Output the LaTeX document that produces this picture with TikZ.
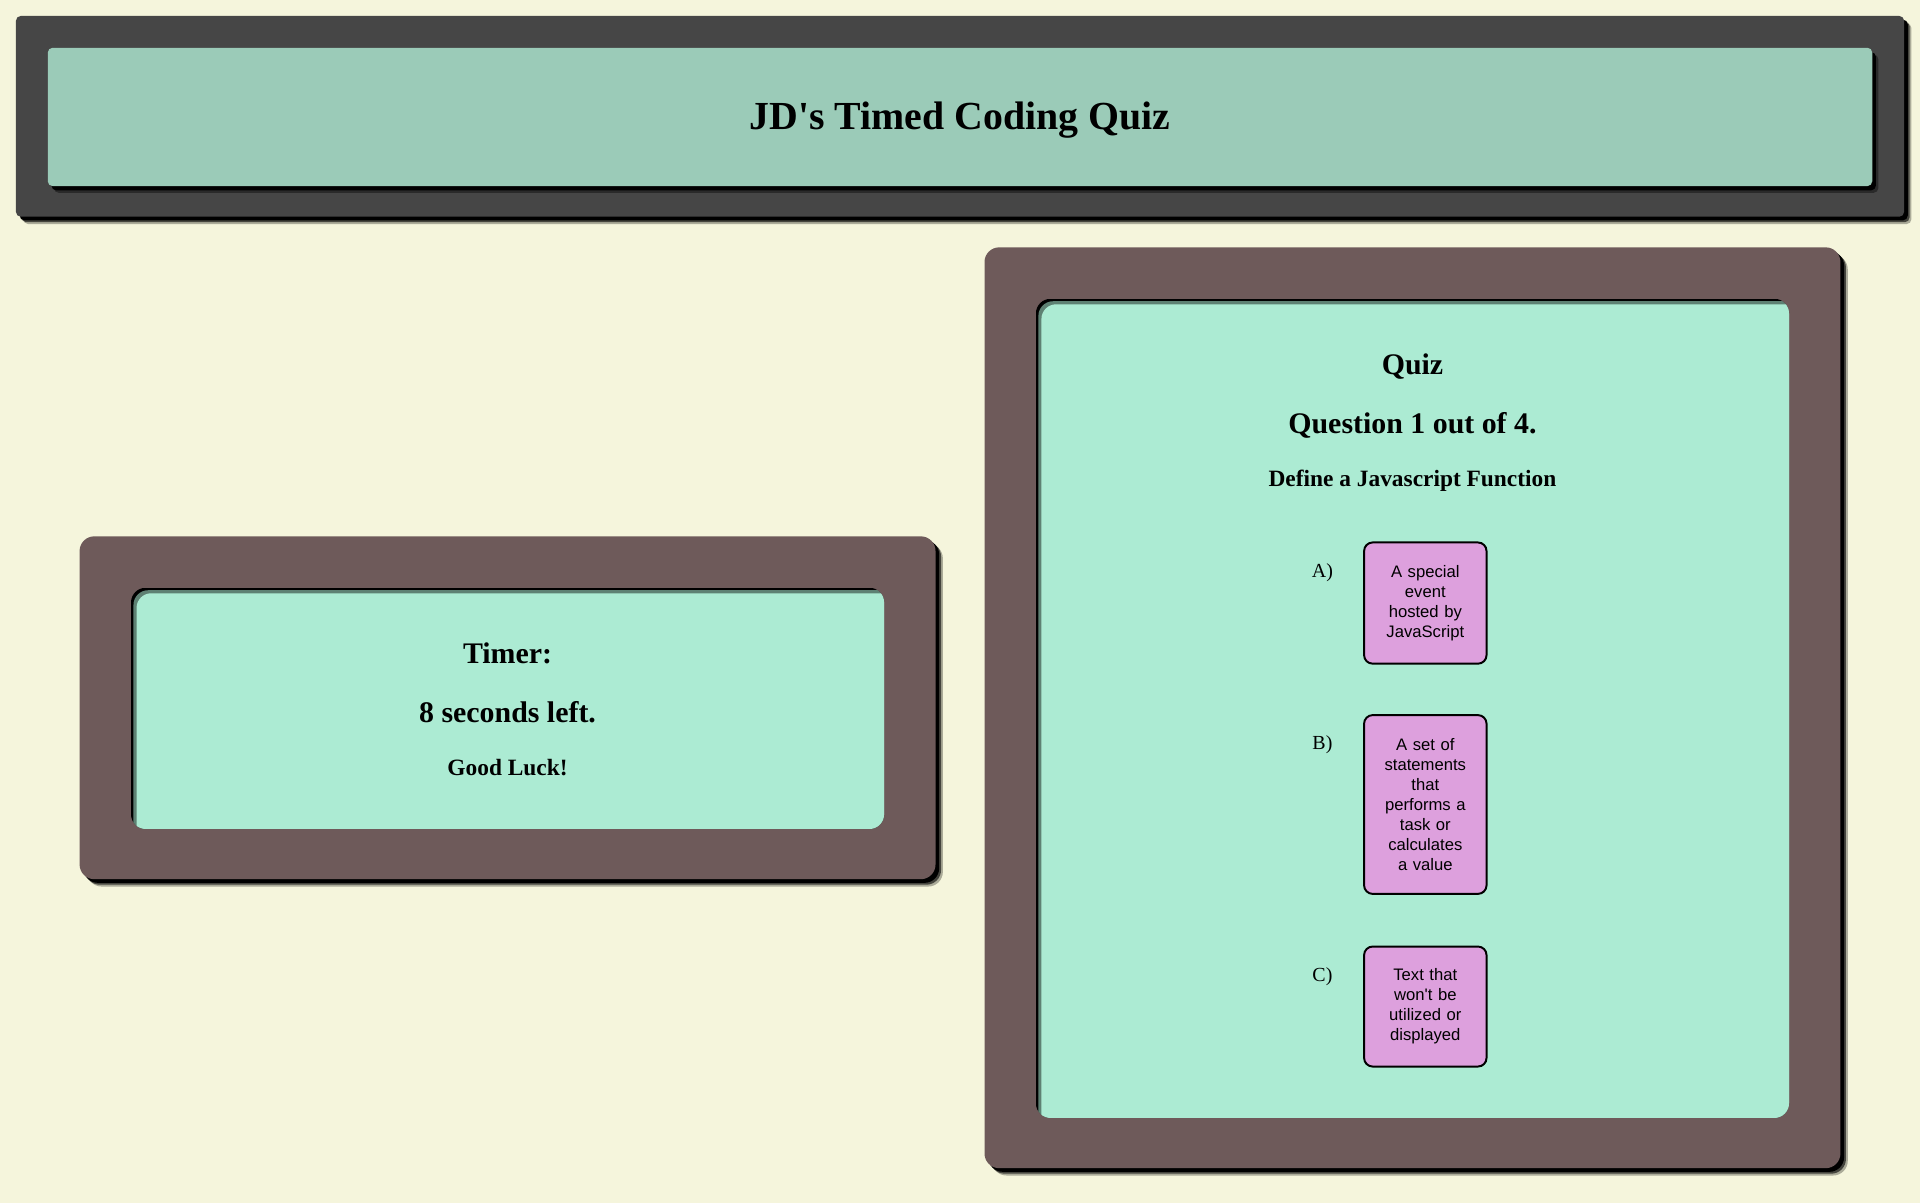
\documentclass[tikz,border=0pt]{standalone}
\usepackage{fontspec}
\setmainfont{Liberation Serif}
\setsansfont{Liberation Sans}

\definecolor{pagebg}{HTML}{F5F5DC}
\definecolor{hdrgray}{HTML}{464646}
\definecolor{hdrgreen}{HTML}{9BCBB8}
\definecolor{framebrown}{HTML}{6E5A5A}
\definecolor{panelmint}{HTML}{ACEBD3}
\definecolor{answerplum}{HTML}{DDA0DD}

\begin{document}
\begin{tikzpicture}%
	[x=1pt, y=-1pt,
	castshadow/.style={fill=black, opacity=#1},
	castshadow/.default=1,
	hdrframe/.style={fill=hdrgray, rounded corners=4pt},
	hdrbar/.style={fill=hdrgreen, rounded corners=4pt},
	frame/.style={fill=framebrown, rounded corners=12pt},
	panel/.style={fill=panelmint, rounded corners=12pt},
	title/.style={font=\bfseries\fontsize{32.5}{39}\selectfont, anchor=base},
	heading/.style={font=\bfseries\fontsize{24.4}{29}\selectfont, anchor=base},
	subheading/.style={font=\bfseries\fontsize{19.1}{23}\selectfont, anchor=base},
	choice/.style={font=\fontsize{16.3}{19.5}\selectfont, anchor=base},
	answer/.style={draw=black, line width=1.6pt, fill=answerplum, rounded corners=7pt,
		inner sep=0pt, minimum width=100pt, text width=72pt, align=center,
		font=\sffamily\fontsize{13.6}{16.3}\selectfont}]
%
%% Page
%%
\fill[pagebg] (0,0) rectangle (1568,982.4);
\useasboundingbox (0,0) rectangle (1568,982.4);
%%
%%
%% Drawing the shadows
%%
\fill[castshadow=0.3, rounded corners=4pt, xshift=6pt, yshift=-6pt] (13,13) rectangle (1555,177);
\fill[castshadow=0.6, rounded corners=4pt, xshift=4.5pt, yshift=-4.5pt] (13,13) rectangle (1555,177);
\fill[castshadow, rounded corners=4pt, xshift=3pt, yshift=-3pt] (13,13) rectangle (1555,177);
\fill[castshadow=0.3, rounded corners=12pt, xshift=6pt, yshift=-6pt] (65,438) rectangle (764,718);
\fill[castshadow=0.6, rounded corners=12pt, xshift=4.5pt, yshift=-4.5pt] (65,438) rectangle (764,718);
\fill[castshadow, rounded corners=12pt, xshift=3pt, yshift=-3pt] (65,438) rectangle (764,718);
\fill[castshadow=0.3, rounded corners=12pt, xshift=6pt, yshift=-6pt] (804,202) rectangle (1503,954);
\fill[castshadow=0.6, rounded corners=12pt, xshift=4.5pt, yshift=-4.5pt] (804,202) rectangle (1503,954);
\fill[castshadow, rounded corners=12pt, xshift=3pt, yshift=-3pt] (804,202) rectangle (1503,954);
%%
%%
%% Drawing the frames
%%
\fill[hdrframe] (13,13) rectangle (1555,177);
\fill[frame] (65,438) rectangle (764,718);
\fill[frame] (804,202) rectangle (1503,954);
%%
%%
%% Header bar
%%
\fill[castshadow=0.4, rounded corners=4pt, xshift=5pt, yshift=-5.5pt] (39,39) rectangle (1529,152);
\fill[castshadow, rounded corners=4pt, xshift=3pt, yshift=-3.5pt] (39,39) rectangle (1529,152);
\fill[hdrbar] (39,39) rectangle (1529,152);
%%
%%
%% Drawing the panels (inset shadow on top and left)
%%
\begin{scope}
\clip[rounded corners=12pt] (107,480) rectangle (722,677);
\fill[black] (107,480) rectangle (722,677);
\fill[panelmint, opacity=0.55, rounded corners=12pt] (109,482) rectangle (740,695);
\fill[panel] (111.5,484.5) rectangle (740,695);
\end{scope}
\begin{scope}
\clip[rounded corners=12pt] (846,244) rectangle (1461,913);
\fill[black] (846,244) rectangle (1461,913);
\fill[panelmint, opacity=0.55, rounded corners=12pt] (848,246) rectangle (1479,931);
\fill[panel] (850.5,248.5) rectangle (1479,931);
\end{scope}
%%
%%
%% Texts
%%
\node[title] (pagetitle) at (784,106) {JD\textquotesingle s Timed Coding Quiz};
\node[heading] (timerhead) at (414.5,542) {Timer:};
\node[heading] (timeleft) at (414.5,590) {8 seconds left.};
\node[subheading] (goodluck) at (414.5,633.5) {Good Luck!};
\node[heading] (quizhead) at (1153.5,306) {Quiz};
\node[heading] (qcount) at (1153.5,354) {Question 1 out of 4.};
\node[subheading] (qtext) at (1153.5,397.5) {Define a Javascript Function};
%%
%%
%% Drawing the choices
%%
\node[choice] (lblA) at (1080,471.4) {A)};
\node[choice] (lblB) at (1080,612.4) {B)};
\node[choice] (lblC) at (1080,801.4) {C)};
\node[answer, minimum height=99pt] (ansA) at (1164,492.5) {A special\\event\\hosted by\\JavaScript};
\node[answer, minimum height=146pt] (ansB) at (1164,657) {A set of\\statements\\that\\performs a\\task or\\calculates\\a value};
\node[answer, minimum height=98pt] (ansC) at (1164,822) {Text that\\won\textquotesingle t be\\utilized or\\displayed};
%%
%%
\end{tikzpicture}
\end{document}
